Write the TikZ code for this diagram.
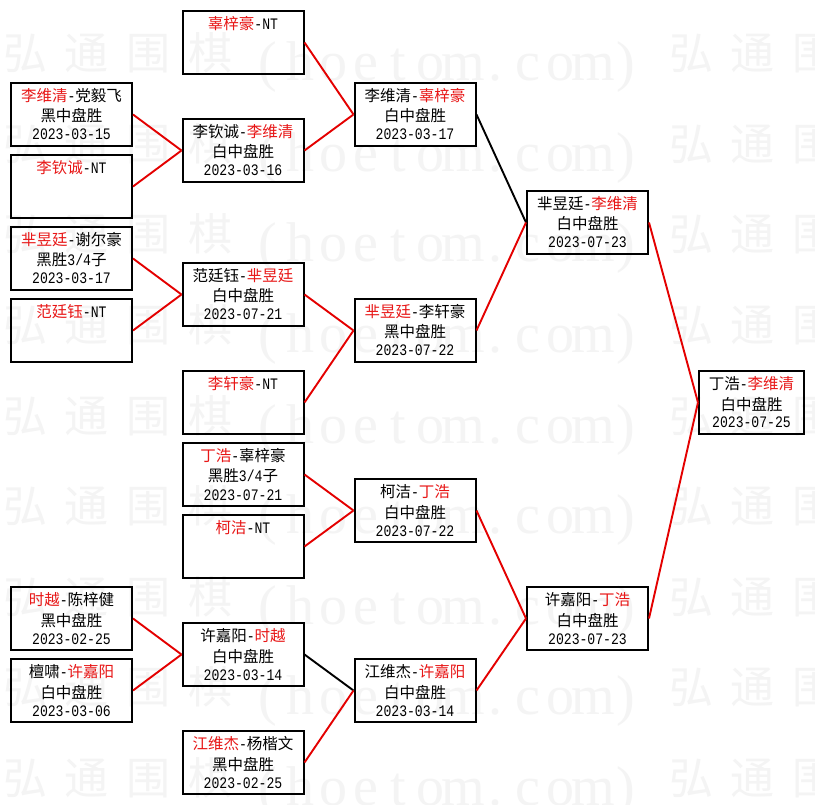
\documentclass[tikz,border=0pt]{standalone}
\usepackage{fontspec}
\setmainfont{Liberation Mono}
\newfontfamily\cjkf{Noto Sans CJK SC}
\newfontfamily\monof{Liberation Mono}[FakeStretch=0.82]
\newfontfamily\wmserif{Liberation Serif}
\definecolor{hred}{RGB}{232,22,22}
\definecolor{lred}{RGB}{228,0,0}
\definecolor{wm}{RGB}{244,244,244}
\newcommand{\K}[1]{{\cjkf\fontsize{15.5}{18}\selectfont #1}}
\newcommand{\R}[1]{\textcolor{hred}{\K{#1}}}
\newcommand{\N}[1]{{\monof\fontsize{16}{18}\selectfont #1}}
\newcommand{\D}{\N{-}}
\tikzset{
  box/.style={draw=black, line width=2pt, minimum width=121pt, minimum height=63pt, inner sep=0pt},
  txt/.style={anchor=base, inner sep=0pt, text=black},
  wmk/.style={anchor=base, inner sep=0pt, text=wm, font=\cjkf\fontsize{44}{44}\selectfont},
  wml/.style={anchor=base, inner sep=0pt, text=wm, font=\wmserif\fontsize{56}{56}\selectfont},
  win/.style={draw=lred, line width=1.9pt},
  lose/.style={draw=black, line width=1.9pt}
}
\newcommand{\gbox}[7][121]{%
  \node[box, minimum width=#1pt] (#2) at (#3,#4) {};
  \node[txt] (#2-1) at ([yshift=13pt]#2.center) {#5};
  \node[txt] (#2-2) at ([yshift=-7.5pt]#2.center) {#6};
  \node[txt] (#2-3) at ([yshift=-25.5pt]#2.center) {#7};
}
\newcommand{\ntbox}[4]{%
  \node[box] (#1) at (#2,#3) {};
  \node[txt] (#1-1) at ([yshift=13pt]#1.center) {#4};
}
\begin{document}
\begin{tikzpicture}[x=1pt, y=-1pt]
\useasboundingbox (0,0) rectangle (815,805);
\fill[white] (0,0) rectangle (815,805);
% watermark
\foreach \r in {0,...,8}{
  \pgfmathsetmacro{\yb}{53+90.5*\r+17}
  \pgfmathsetmacro{\yl}{53+90.5*\r+28}
  \foreach \ch/\xx [count=\i] in {弘/25,通/86,围/148,棋/210,弘/691,通/752,围/814}
    \node[wmk] (wmk-\r-\i) at (\xx,\yb) {\ch};
  \foreach \ch [count=\i from 0] in {{(},h,o,e,t,o,m,.,c,o,m,{)}}
    \node[wml] (wml-\r-\i) at ({268+32.5*\i},\yl) {\ch};
}
% column 1
\gbox{a1}{71.5}{114.5}{\R{李维清}\D\K{党毅飞}}{\K{黑中盘胜}}{\N{2023-03-15}}
\ntbox{a2}{71.5}{186.5}{\R{李钦诚}\D\N{NT}}
\gbox{a3}{71.5}{258.5}{\R{芈昱廷}\D\K{谢尔豪}}{\K{黑胜}\N{3/4}\K{子}}{\N{2023-03-17}}
\ntbox{a4}{71.5}{330.5}{\R{范廷钰}\D\N{NT}}
\gbox{a5}{71.5}{618.5}{\R{时越}\D\K{陈梓健}}{\K{黑中盘胜}}{\N{2023-02-25}}
\gbox{a6}{71.5}{690.5}{\K{檀啸}\D\R{许嘉阳}}{\K{白中盘胜}}{\N{2023-03-06}}
% column 2
\ntbox{b1}{243}{42.5}{\R{辜梓豪}\D\N{NT}}
\gbox{b2}{243}{150.5}{\K{李钦诚}\D\R{李维清}}{\K{白中盘胜}}{\N{2023-03-16}}
\gbox{b3}{243}{294.5}{\K{范廷钰}\D\R{芈昱廷}}{\K{白中盘胜}}{\N{2023-07-21}}
\ntbox{b4}{243}{402.5}{\R{李轩豪}\D\N{NT}}
\gbox{b5}{243}{474.5}{\R{丁浩}\D\K{辜梓豪}}{\K{黑胜}\N{3/4}\K{子}}{\N{2023-07-21}}
\ntbox{b6}{243}{546.5}{\R{柯洁}\D\N{NT}}
\gbox{b7}{243}{654.5}{\K{许嘉阳}\D\R{时越}}{\K{白中盘胜}}{\N{2023-03-14}}
\gbox{b8}{243}{762.5}{\R{江维杰}\D\K{杨楷文}}{\K{黑中盘胜}}{\N{2023-02-25}}
% column 3
\gbox{c1}{415}{114.5}{\K{李维清}\D\R{辜梓豪}}{\K{白中盘胜}}{\N{2023-03-17}}
\gbox{c2}{415}{330.5}{\R{芈昱廷}\D\K{李轩豪}}{\K{黑中盘胜}}{\N{2023-07-22}}
\gbox{c3}{415}{510.5}{\K{柯洁}\D\R{丁浩}}{\K{白中盘胜}}{\N{2023-07-22}}
\gbox{c4}{415}{690.5}{\K{江维杰}\D\R{许嘉阳}}{\K{白中盘胜}}{\N{2023-03-14}}
% column 4
\gbox{d1}{587.5}{222.5}{\K{芈昱廷}\D\R{李维清}}{\K{白中盘胜}}{\N{2023-07-23}}
\gbox{d2}{587.5}{618.5}{\K{许嘉阳}\D\R{丁浩}}{\K{白中盘胜}}{\N{2023-07-23}}
% column 5
\gbox[105]{e1}{751.5}{402.5}{\K{丁浩}\D\R{李维清}}{\K{白中盘胜}}{\N{2023-07-25}}
% connectors
\draw[win] (a1.east) -- (b2.west);
\draw[win] (a2.east) -- (b2.west);
\draw[win] (a3.east) -- (b3.west);
\draw[win] (a4.east) -- (b3.west);
\draw[win] (a5.east) -- (b7.west);
\draw[win] (a6.east) -- (b7.west);
\draw[win] (b1.east) -- (c1.west);
\draw[win] (b2.east) -- (c1.west);
\draw[win] (b3.east) -- (c2.west);
\draw[win] (b4.east) -- (c2.west);
\draw[win] (b5.east) -- (c3.west);
\draw[win] (b6.east) -- (c3.west);
\draw[lose] (b7.east) -- (c4.west);
\draw[win] (b8.east) -- (c4.west);
\draw[lose] (c1.east) -- (d1.west);
\draw[win] (c2.east) -- (d1.west);
\draw[win] (c3.east) -- (d2.west);
\draw[win] (c4.east) -- (d2.west);
\draw[win] (d1.east) -- (e1.west);
\draw[win] (d2.east) -- (e1.west);
\end{tikzpicture}
\end{document}
